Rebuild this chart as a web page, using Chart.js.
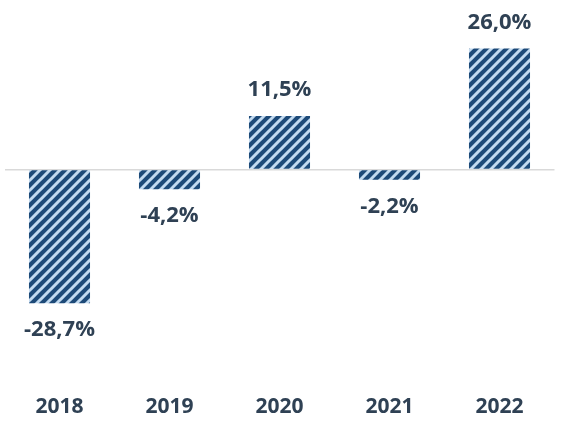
<!DOCTYPE html>
<html>
<head>
<meta charset="utf-8">
<script src="https://cdn.jsdelivr.net/npm/chart.js@4/dist/chart.umd.min.js"></script>
<style>
  html, body { margin: 0; padding: 0; background: #fff; }
  #wrap { width: 562px; height: 422px; }
</style>
</head>
<body>
<div id="wrap"><canvas id="chart"></canvas></div>
<script>
// Data
const years = ["2018", "2019", "2020", "2021", "2022"];
const growth = [-28.7, -4.2, 11.5, -2.2, 26.0];

const navy = "#1d4a78";
const stripe = "#c2daf0";
const textColor = "#2f4154";

// diagonal hatch fill like the original
function makeHatch() {
  const size = 10;
  const c = document.createElement("canvas");
  c.width = size;
  c.height = size;
  const g = c.getContext("2d");
  g.fillStyle = navy;
  g.fillRect(0, 0, size, size);
  g.strokeStyle = stripe;
  g.lineWidth = 3;
  g.beginPath();
  g.moveTo(-1, size + 1); g.lineTo(size + 1, -1);
  g.moveTo(-3, 3); g.lineTo(3, -3);
  g.moveTo(size - 3, size + 3); g.lineTo(size + 3, size - 3);
  g.stroke();
  return g.createPattern(c, "repeat");
}

const fmt = v => v.toFixed(1).replace(".", ",") + "%";

// value labels above / below each bar
const valueLabels = {
  id: "valueLabels",
  afterDatasetsDraw(chart) {
    const ctx = chart.ctx;
    const meta = chart.getDatasetMeta(0);
    ctx.save();
    ctx.font = "bold 22px 'Open Sans'";
    ctx.fillStyle = textColor;
    ctx.textAlign = "center";
    ctx.textBaseline = "middle";
    meta.data.forEach((bar, i) => {
      const v = growth[i];
      const y = v >= 0 ? bar.y - 26 : bar.y + 27;
      ctx.fillText(fmt(v), bar.x, y);
    });
    ctx.restore();
  }
};

new Chart(document.getElementById("chart"), {
  type: "bar",
  data: {
    labels: years,
    datasets: [{
      data: growth,
      backgroundColor: makeHatch(),
      borderWidth: 0,
      categoryPercentage: 1,
      barPercentage: 0.555
    }]
  },
  options: {
    responsive: true,
    maintainAspectRatio: false,
    animation: false,
    layout: { padding: { top: 30, left: 4.5, right: 7.5, bottom: 0 } },
    plugins: { legend: { display: false }, tooltip: { enabled: false } },
    scales: {
      x: {
        grid: { display: false, drawTicks: false },
        border: { display: false },
        ticks: {
          padding: 4,
          color: textColor,
          font: { family: "'Open Sans'", size: 21, weight: "bold", lineHeight: 1 }
        }
      },
      y: {
        min: -48,
        max: 30,
        grid: {
          drawTicks: false,
          color: c => c.tick && c.tick.value === 0 ? "#d9d9d9" : "rgba(0,0,0,0)",
          lineWidth: 1.5
        },
        border: { display: false },
        ticks: { display: false, stepSize: 6 }
      }
    }
  },
  plugins: [valueLabels]
});
</script>
</body>
</html>
